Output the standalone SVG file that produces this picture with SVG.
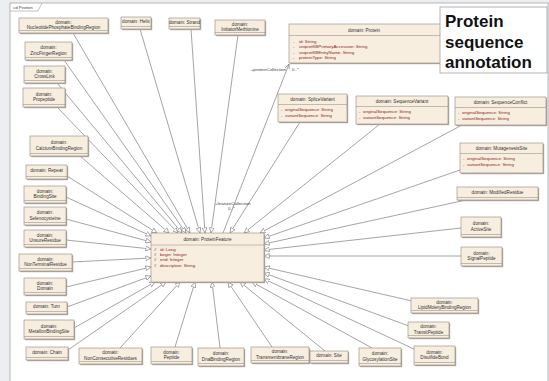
<svg xmlns="http://www.w3.org/2000/svg" width="549" height="381" viewBox="0 0 549 381">
<defs>
<style>
.box{fill:#f7eee0;stroke:#8f877c;stroke-width:.6}
.sh{fill:#b3aca3}
.dv{stroke:#8f877c;stroke-width:.5}
.t{font-family:"Liberation Sans",Arial,sans-serif;font-size:4.6px;fill:#333;text-anchor:middle}
.a{font-family:"Liberation Sans",Arial,sans-serif;font-size:4.4px;fill:#8b1a1a}
.lb{font-family:"Liberation Sans",Arial,sans-serif;font-size:4.4px;fill:#444}
.c{stroke:#7d7d7d;stroke-width:.7;fill:none;marker-end:url(#gen)}
</style>
<marker id="gen" markerUnits="userSpaceOnUse" markerWidth="5.5" markerHeight="5.5" viewBox="0 0 6 6" refX="6" refY="3" orient="auto">
<path d="M0.3,0.3 L5.7,3 L0.3,5.7 z" fill="#fff" stroke="#7d7d7d" stroke-width=".7"/>
</marker>
<marker id="nav" markerUnits="userSpaceOnUse" markerWidth="5" markerHeight="5" viewBox="0 0 6 6" refX="6" refY="3" orient="auto">
<path d="M0,0.5 L6,3 L0,5.5" fill="none" stroke="#7d7d7d" stroke-width=".8"/>
</marker>
</defs>
<rect x="0" y="0" width="549" height="381" fill="#eceef2"/>
<rect x="10" y="3" width="538" height="385" fill="#fff" stroke="#a6a6a6" stroke-width=".8"/>
<path d="M10,11 H38 L42,3" fill="none" stroke="#a6a6a6" stroke-width=".7"/>
<text class="lb" x="13" y="9">cd Protein</text>

<g id="connectors">
<line class="c" x1="80" y1="156" x2="169" y2="233"/>
<line class="c" x1="67" y1="176" x2="157" y2="233"/>
<line class="c" x1="66" y1="197" x2="151" y2="236"/>
<line class="c" x1="66" y1="219" x2="151" y2="242"/>
<line class="c" x1="66" y1="240" x2="151" y2="249"/>
<line class="c" x1="72" y1="262" x2="151" y2="258"/>
<line class="c" x1="66" y1="287" x2="151" y2="267"/>
<line class="c" x1="67" y1="307" x2="151" y2="276"/>
<line class="c" x1="74" y1="328" x2="155" y2="282"/>
<line class="c" x1="68" y1="350" x2="166" y2="282"/>
<line class="c" x1="120" y1="348" x2="180" y2="282"/>
<line class="c" x1="175" y1="347" x2="195" y2="282"/>
<line class="c" x1="220" y1="348" x2="212" y2="282"/>
<line class="c" x1="272" y1="347" x2="228" y2="282"/>
<line class="c" x1="325" y1="351" x2="240" y2="282"/>
<line class="c" x1="372" y1="348" x2="252" y2="282"/>
<line class="c" x1="416" y1="350" x2="264" y2="279"/>
<line class="c" x1="409" y1="326" x2="264" y2="273"/>
<line class="c" x1="412" y1="301" x2="264" y2="267"/>
<line class="c" x1="461" y1="256" x2="264" y2="256"/>
<line class="c" x1="461" y1="228" x2="264" y2="250"/>
<line class="c" x1="466" y1="200" x2="264" y2="244"/>
<line class="c" x1="460" y1="170" x2="264" y2="238"/>
<line class="c" x1="462" y1="125" x2="260" y2="233"/>
<line class="c" x1="380" y1="124" x2="244" y2="233"/>
<line class="c" x1="300" y1="122" x2="230" y2="233"/>
<line class="c" x1="57" y1="107" x2="178" y2="233"/>
<line class="c" x1="57" y1="83" x2="182" y2="233"/>
<line class="c" x1="64" y1="60" x2="186" y2="233"/>
<line class="c" x1="73" y1="33" x2="190" y2="233"/>
<line class="c" x1="140" y1="29" x2="200" y2="233"/>
<line class="c" x1="191" y1="29" x2="205" y2="233"/>
<line class="c" x1="238" y1="35" x2="211" y2="233"/>
<line x1="223" y1="233" x2="289" y2="64" stroke="#7d7d7d" stroke-width=".7" marker-end="url(#nav)"/>
<text class="lb" x="286" y="71" text-anchor="end">+proteinCollection</text>
<text class="lb" x="292" y="71">0..*</text>
<text class="lb" x="215" y="205">+featureCollection</text>
<text class="lb" x="228" y="210">0..*</text>
</g>

<g id="n-nucleotide"><rect class="sh" x="20.2" y="19.2" width="89" height="15"/><rect class="box" x="19" y="18" width="89" height="15"/><line class="dv" x1="19" y1="30.5" x2="108" y2="30.5"/><text class="t" x="63.5" y="23.65">domain:</text><text class="t" x="63.5" y="29.25">NucleotidePhosphateBindingRegion</text></g>
<g id="n-helix"><rect class="sh" x="122.2" y="18.2" width="30" height="12"/><rect class="box" x="121" y="17" width="30" height="12"/><line class="dv" x1="121" y1="26.5" x2="151" y2="26.5"/><text class="t" x="136" y="23.35">domain: Helix</text></g>
<g id="n-strand"><rect class="sh" x="170.2" y="19.2" width="31" height="11"/><rect class="box" x="169" y="18" width="31" height="11"/><line class="dv" x1="169" y1="26.5" x2="200" y2="26.5"/><text class="t" x="184.5" y="23.85">domain: Strand</text></g>
<g id="n-initmet"><rect class="sh" x="216.2" y="21.2" width="50" height="15"/><rect class="box" x="215" y="20" width="50" height="15"/><line class="dv" x1="215" y1="32.5" x2="265" y2="32.5"/><text class="t" x="240" y="25.65">domain:</text><text class="t" x="240" y="31.25">InitiatorMethionine</text></g>

<g id="n-protein"><rect class="sh" x="290.2" y="25.2" width="156" height="39"/><rect class="box" x="289" y="24" width="156" height="39"/><line class="dv" x1="289" y1="35.5" x2="445" y2="35.5"/><text class="t" x="364" y="31.5">domain: Protein</text>
<text class="a" x="293" y="42.5">-</text><text class="a" x="299" y="42.5">id: String</text>
<text class="a" x="293" y="48">-</text><text class="a" x="299" y="48">uniprotKBPrimaryAccession: String</text>
<text class="a" x="293" y="53.5">-</text><text class="a" x="299" y="53.5">uniprotKBEntryName: String</text>
<text class="a" x="293" y="59">-</text><text class="a" x="299" y="59">proteinType: String</text></g>

<g id="n-note"><rect x="440" y="7" width="107" height="66" fill="#fff" stroke="#a0a0a0" stroke-width=".8"/>
<text x="445" y="27" font-family="Liberation Sans, Arial, sans-serif" font-size="17" font-weight="bold" fill="#111">Protein</text>
<text x="445" y="47.5" font-family="Liberation Sans, Arial, sans-serif" font-size="17" font-weight="bold" fill="#111">sequence</text>
<text x="445" y="68" font-family="Liberation Sans, Arial, sans-serif" font-size="17" font-weight="bold" fill="#111">annotation</text></g>

<g id="n-zinc"><rect class="sh" x="26.2" y="43.2" width="47" height="18"/><rect class="box" x="25" y="42" width="47" height="18"/><line class="dv" x1="25" y1="57.5" x2="72" y2="57.5"/><text class="t" x="48.5" y="49.15">domain:</text><text class="t" x="48.5" y="54.75">ZincFingerRegion</text></g>
<g id="n-crosslink"><rect class="sh" x="25.2" y="67.2" width="41" height="17"/><rect class="box" x="24" y="66" width="41" height="17"/><line class="dv" x1="24" y1="80.5" x2="65" y2="80.5"/><text class="t" x="44.5" y="72.65">domain:</text><text class="t" x="44.5" y="78.25">CrossLink</text></g>
<g id="n-propeptide"><rect class="sh" x="24.2" y="89.2" width="42" height="19"/><rect class="box" x="23" y="88" width="42" height="19"/><line class="dv" x1="23" y1="104.5" x2="65" y2="104.5"/><text class="t" x="44" y="95.65">domain:</text><text class="t" x="44" y="101.25">Propeptide</text></g>
<g id="n-calcium"><rect class="sh" x="31.2" y="137.2" width="58" height="20"/><rect class="box" x="30" y="136" width="58" height="20"/><line class="dv" x1="30" y1="153.5" x2="88" y2="153.5"/><text class="t" x="59" y="144.15">domain:</text><text class="t" x="59" y="149.75">CalciumBindingRegion</text></g>
<g id="n-repeat"><rect class="sh" x="27.2" y="166.2" width="41" height="14"/><rect class="box" x="26" y="165" width="41" height="14"/><line class="dv" x1="26" y1="176.5" x2="67" y2="176.5"/><text class="t" x="46.5" y="172.35">domain: Repeat</text></g>
<g id="n-binding"><rect class="sh" x="25.2" y="187.2" width="42" height="17"/><rect class="box" x="24" y="186" width="42" height="17"/><line class="dv" x1="24" y1="200.5" x2="66" y2="200.5"/><text class="t" x="45" y="192.65">domain:</text><text class="t" x="45" y="198.25">BindingSite</text></g>
<g id="n-seleno"><rect class="sh" x="25.2" y="208.2" width="42" height="18"/><rect class="box" x="24" y="207" width="42" height="18"/><line class="dv" x1="24" y1="222.5" x2="66" y2="222.5"/><text class="t" x="45" y="214.15">domain:</text><text class="t" x="45" y="219.75">Selenocysteine</text></g>
<g id="n-unsure"><rect class="sh" x="25.2" y="231.2" width="42" height="17"/><rect class="box" x="24" y="230" width="42" height="17"/><line class="dv" x1="24" y1="244.5" x2="66" y2="244.5"/><text class="t" x="45" y="236.65">domain:</text><text class="t" x="45" y="242.25">UnsureResidue</text></g>
<g id="n-nonterm"><rect class="sh" x="20.2" y="255.2" width="53" height="17"/><rect class="box" x="19" y="254" width="53" height="17"/><line class="dv" x1="19" y1="268.5" x2="72" y2="268.5"/><text class="t" x="45.5" y="260.65">domain:</text><text class="t" x="45.5" y="266.25">NonTerminalResidue</text></g>
<g id="n-domain"><rect class="sh" x="25.2" y="279.2" width="42" height="17"/><rect class="box" x="24" y="278" width="42" height="17"/><line class="dv" x1="24" y1="292.5" x2="66" y2="292.5"/><text class="t" x="45" y="284.65">domain:</text><text class="t" x="45" y="290.25">Domain</text></g>
<g id="n-turn"><rect class="sh" x="27.2" y="303.2" width="41" height="12"/><rect class="box" x="26" y="302" width="41" height="12"/><line class="dv" x1="26" y1="311.5" x2="67" y2="311.5"/><text class="t" x="46.5" y="308.35">domain: Turn</text></g>
<g id="n-metal"><rect class="sh" x="25.2" y="321.2" width="50" height="19"/><rect class="box" x="24" y="320" width="50" height="19"/><line class="dv" x1="24" y1="336.5" x2="74" y2="336.5"/><text class="t" x="49" y="327.65">domain:</text><text class="t" x="49" y="333.25">MetalIonBindingSite</text></g>
<g id="n-chain"><rect class="sh" x="27.2" y="348.2" width="42" height="13"/><rect class="box" x="26" y="347" width="42" height="13"/><line class="dv" x1="26" y1="357.5" x2="68" y2="357.5"/><text class="t" x="47" y="353.85">domain: Chain</text></g>
<g id="n-noncons"><rect class="sh" x="80.2" y="349.2" width="63" height="16"/><rect class="box" x="79" y="348" width="63" height="16"/><line class="dv" x1="79" y1="361.5" x2="142" y2="361.5"/><text class="t" x="110.5" y="354.15">domain:</text><text class="t" x="110.5" y="359.75">NonConsecutiveResidues</text></g>
<g id="n-peptide"><rect class="sh" x="152.2" y="348.2" width="41" height="17"/><rect class="box" x="151" y="347" width="41" height="17"/><line class="dv" x1="151" y1="361.5" x2="192" y2="361.5"/><text class="t" x="171.5" y="353.65">domain:</text><text class="t" x="171.5" y="359.25">Peptide</text></g>
<g id="n-dna"><rect class="sh" x="199.2" y="349.2" width="46" height="18"/><rect class="box" x="198" y="348" width="46" height="18"/><line class="dv" x1="198" y1="363.5" x2="244" y2="363.5"/><text class="t" x="221" y="355.15">domain:</text><text class="t" x="221" y="360.75">DnaBindingRegion</text></g>
<g id="n-transmem"><rect class="sh" x="252.2" y="348.2" width="58" height="16"/><rect class="box" x="251" y="347" width="58" height="16"/><line class="dv" x1="251" y1="360.5" x2="309" y2="360.5"/><text class="t" x="280" y="353.15">domain:</text><text class="t" x="280" y="358.75">TransmembraneRegion</text></g>
<g id="n-site"><rect class="sh" x="311.2" y="352.2" width="38" height="12"/><rect class="box" x="310" y="351" width="38" height="12"/><line class="dv" x1="310" y1="360.5" x2="348" y2="360.5"/><text class="t" x="329" y="357.35">domain: Site</text></g>
<g id="n-glyco"><rect class="sh" x="360.2" y="349.2" width="42" height="18"/><rect class="box" x="359" y="348" width="42" height="18"/><line class="dv" x1="359" y1="363.5" x2="401" y2="363.5"/><text class="t" x="380" y="355.15">domain:</text><text class="t" x="380" y="360.75">GlycosylationSite</text></g>
<g id="n-disulfide"><rect class="sh" x="415.2" y="347.2" width="41" height="19"/><rect class="box" x="414" y="346" width="41" height="19"/><line class="dv" x1="414" y1="362.5" x2="455" y2="362.5"/><text class="t" x="434.5" y="353.65">domain:</text><text class="t" x="434.5" y="359.25">DisulfideBond</text></g>
<g id="n-transit"><rect class="sh" x="409.2" y="323.2" width="41" height="16"/><rect class="box" x="408" y="322" width="41" height="16"/><line class="dv" x1="408" y1="335.5" x2="449" y2="335.5"/><text class="t" x="428.5" y="328.15">domain:</text><text class="t" x="428.5" y="333.75">TransitPeptide</text></g>
<g id="n-lipid"><rect class="sh" x="412.2" y="299.2" width="67" height="15"/><rect class="box" x="411" y="298" width="67" height="15"/><line class="dv" x1="411" y1="310.5" x2="478" y2="310.5"/><text class="t" x="444.5" y="303.65">domain:</text><text class="t" x="444.5" y="309.25">LipidMoietyBindingRegion</text></g>
<g id="n-signal"><rect class="sh" x="462.2" y="248.2" width="41" height="19"/><rect class="box" x="461" y="247" width="41" height="19"/><line class="dv" x1="461" y1="263.5" x2="502" y2="263.5"/><text class="t" x="481.5" y="254.65">domain:</text><text class="t" x="481.5" y="260.25">SignalPeptide</text></g>
<g id="n-active"><rect class="sh" x="462.2" y="218.2" width="40" height="20"/><rect class="box" x="461" y="217" width="40" height="20"/><line class="dv" x1="461" y1="234.5" x2="501" y2="234.5"/><text class="t" x="481" y="225.15">domain:</text><text class="t" x="481" y="230.75">ActiveSite</text></g>
<g id="n-modified"><rect class="sh" x="458.2" y="188.2" width="81" height="13"/><rect class="box" x="457" y="187" width="81" height="13"/><line class="dv" x1="457" y1="197.5" x2="538" y2="197.5"/><text class="t" x="497.5" y="193.85">domain: ModifiedResidue</text></g>

<g id="n-mutagenesis"><rect class="sh" x="461.2" y="144.2" width="83" height="30"/><rect class="box" x="460" y="143" width="83" height="30"/><line class="dv" x1="460" y1="153.5" x2="543" y2="153.5"/><text class="t" x="501.5" y="149.8">domain: MutagenesisSite</text>
<text class="a" x="463" y="160">-</text><text class="a" x="467" y="160">originalSequence: String</text>
<text class="a" x="463" y="165.5">-</text><text class="a" x="467" y="165.5">variantSequence: String</text></g>
<g id="n-seqconflict"><rect class="sh" x="456.2" y="98.2" width="91" height="28"/><rect class="box" x="455" y="97" width="91" height="28"/><line class="dv" x1="455" y1="107.5" x2="546" y2="107.5"/><text class="t" x="500.5" y="103.8">domain: SequenceConflict</text>
<text class="a" x="458" y="114">-</text><text class="a" x="462" y="114">originalSequence: String</text>
<text class="a" x="458" y="119.5">-</text><text class="a" x="462" y="119.5">variantSequence: String</text></g>
<g id="n-seqvariant"><rect class="sh" x="357.2" y="97.2" width="92" height="28"/><rect class="box" x="356" y="96" width="92" height="28"/><line class="dv" x1="356" y1="106.5" x2="448" y2="106.5"/><text class="t" x="402" y="102.8">domain: SequenceVariant</text>
<text class="a" x="359" y="113">-</text><text class="a" x="363" y="113">originalSequence: String</text>
<text class="a" x="359" y="118.5">-</text><text class="a" x="363" y="118.5">variantSequence: String</text></g>
<g id="n-splice"><rect class="sh" x="279.2" y="95.2" width="69" height="28"/><rect class="box" x="278" y="94" width="69" height="28"/><line class="dv" x1="278" y1="104.5" x2="347" y2="104.5"/><text class="t" x="312.5" y="100.8">domain: SpliceVariant</text>
<text class="a" x="281" y="111">-</text><text class="a" x="285" y="111">originalSequence: String</text>
<text class="a" x="281" y="116.5">-</text><text class="a" x="285" y="116.5">variantSequence: String</text></g>

<g id="n-proteinfeature"><rect class="sh" x="152.2" y="234.2" width="113" height="49"/><rect class="box" x="151" y="233" width="113" height="49"/><line class="dv" x1="151" y1="245" x2="264" y2="245"/><text class="t" x="207.5" y="240.5">domain: ProteinFeature</text>
<text class="a" x="154" y="251">#</text><text class="a" x="160" y="251">id: Long</text>
<text class="a" x="154" y="256.2">#</text><text class="a" x="160" y="256.2">begin: Integer</text>
<text class="a" x="154" y="261.4">#</text><text class="a" x="160" y="261.4">end: Integer</text>
<text class="a" x="154" y="266.6">#</text><text class="a" x="160" y="266.6">description: String</text></g>
</svg>
